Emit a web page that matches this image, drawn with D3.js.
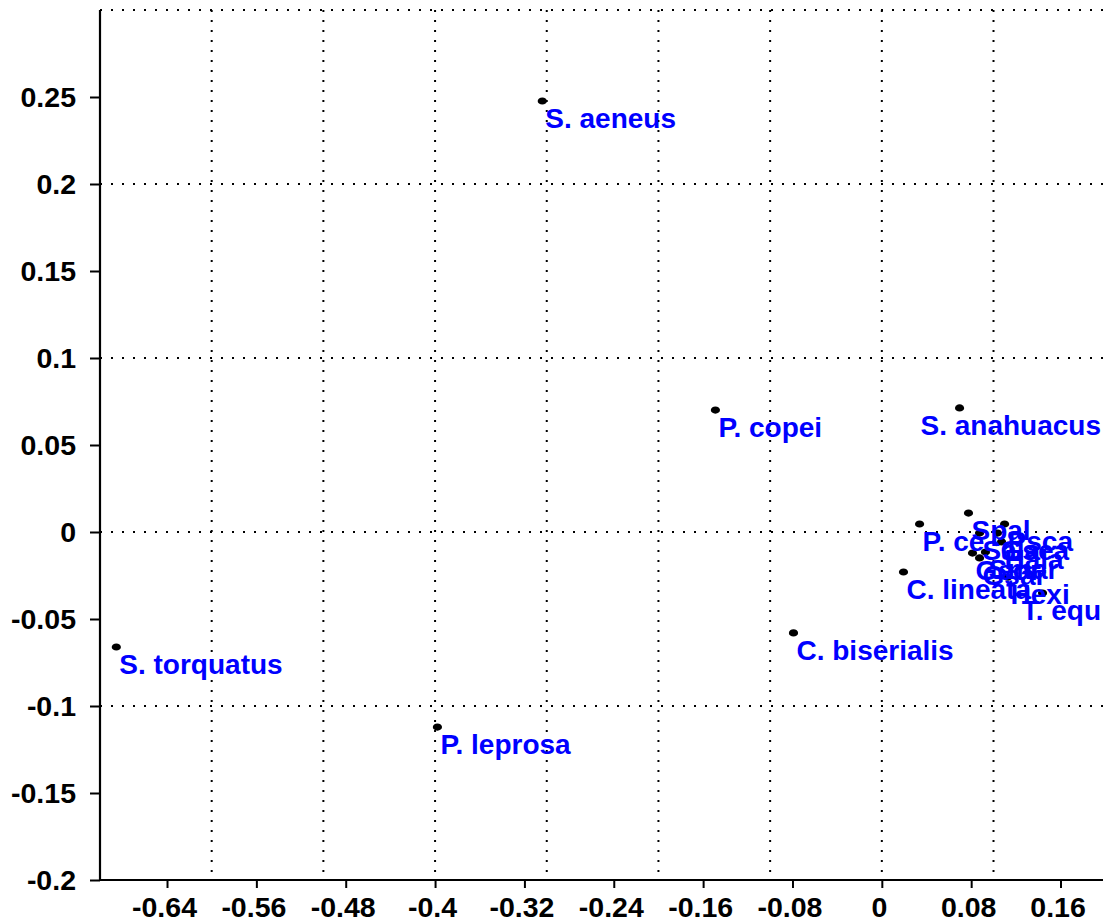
<!DOCTYPE html>
<html>
<head>
<meta charset="utf-8">
<script src="https://cdn.jsdelivr.net/npm/d3@7/dist/d3.min.js"></script>
<style>
  html, body { margin: 0; padding: 0; background: #fff; }
  svg { display: block; }
  text { font-family: "Liberation Sans", Arial, sans-serif; font-weight: bold; }
</style>
</head>
<body>
<svg id="chart" width="1103" height="924"></svg>
<script>
// ---- data ----
const names = ["S. aeneus", "P. copei", "S. anahuacus", "S. torquatus", "P. leprosa",
  "C. biserialis", "C. lineata", "P. ce", "Spal", "Psca", "Gsea", "Sala", "Hala",
  "Geor", "Gsar", "Smar", "Hexi", "T. equ"];
const xValues = [-0.304, -0.149, 0.0696, -0.6854, -0.3979,
  -0.0791, 0.0194, 0.0338, 0.0776, 0.1099, 0.1036, 0.0875, 0.1072,
  0.0812, 0.0875, 0.0928, 0.1126, 0.1439];
const yValues = [0.2477, 0.0701, 0.0713, -0.0661, -0.1121,
  -0.0580, -0.0230, 0.0046, 0.0109, 0.0046, -0.0006, -0.0006, -0.0057,
  -0.0121, -0.0149, -0.0115, -0.0260, -0.0351];
const xTicks = [-0.64, -0.56, -0.48, -0.4, -0.32, -0.24, -0.16, -0.08, 0, 0.08, 0.16];
const yTicks = [-0.2, -0.15, -0.1, -0.05, 0, 0.05, 0.1, 0.15, 0.2, 0.25];
const xGrid = [-0.6, -0.5, -0.4, -0.3, -0.2, -0.1, 0, 0.1];
const yGrid = [-0.1, 0, 0.1, 0.2, 0.3];

const svg = d3.select("#chart");
const x = d3.scaleLinear().domain([-0.7, 0.2]).range([100, 1105.2]);
const y = d3.scaleLinear().domain([-0.2, 0.3]).range([880, 10]);
const fmt = d => String(+d.toFixed(2));   // plain hyphen-minus like the reference

// grid
svg.append("g").selectAll("line").data(yGrid).join("line")
  .attr("x1", 100).attr("x2", 1103)
  .attr("y1", d => y(d)).attr("y2", d => y(d))
  .attr("stroke", "#000").attr("stroke-width", 2).attr("stroke-dasharray", "2,9");
svg.append("g").selectAll("line").data(xGrid).join("line")
  .attr("x1", d => x(d)).attr("x2", d => x(d))
  .attr("y1", 10).attr("y2", 880)
  .attr("stroke", "#000").attr("stroke-width", 2).attr("stroke-dasharray", "2,8");

// y axis
const yAxis = svg.append("g").attr("transform", "translate(100,0)")
  .call(d3.axisLeft(y).tickValues(yTicks).tickSize(10).tickPadding(14).tickFormat(fmt));
yAxis.select(".domain").attr("d", `M0,${y(0.3)}V${y(-0.2)}`).attr("stroke-width", 2.2);
yAxis.selectAll(".tick line").attr("stroke-width", 2);
yAxis.selectAll(".tick text").attr("font-size", 28.5).attr("fill", "#000")
  .attr("font-family", "Liberation Sans, Arial, sans-serif").attr("font-weight", "bold");

// x axis
const xAxis = svg.append("g").attr("transform", "translate(0,880)")
  .call(d3.axisBottom(x).tickValues(xTicks).tickSize(8).tickPadding(9).tickFormat(fmt));
xAxis.select(".domain").attr("d", "M100,0H1103").attr("stroke-width", 2.2);
xAxis.selectAll(".tick line").attr("stroke-width", 2);
xAxis.selectAll(".tick text").attr("font-size", 28.5).attr("fill", "#000").attr("dx", -3)
  .attr("font-family", "Liberation Sans, Arial, sans-serif").attr("font-weight", "bold");

// points
const pts = names.map((n, i) => ({ name: n, x: xValues[i], y: yValues[i] }));
svg.append("g").selectAll("ellipse").data(pts).join("ellipse")
  .attr("cx", d => x(d.x)).attr("cy", d => y(d.y))
  .attr("rx", 4.6).attr("ry", 3.6).attr("fill", "#000");

// labels
const lab = svg.append("g").selectAll("text").data(pts).join("text")
  .attr("x", d => x(d.x) + 3).attr("y", d => y(d.y) + 27)
  .attr("fill", "#0000ff").attr("font-size", 28)
  .text(d => d.name);
lab.each(function(d) {
  const w = this.getComputedTextLength();
  const lx = x(d.x) + 3;
  if (lx + w > 1101) d3.select(this).attr("x", 1101 - w);
});
</script>
</body>
</html>
